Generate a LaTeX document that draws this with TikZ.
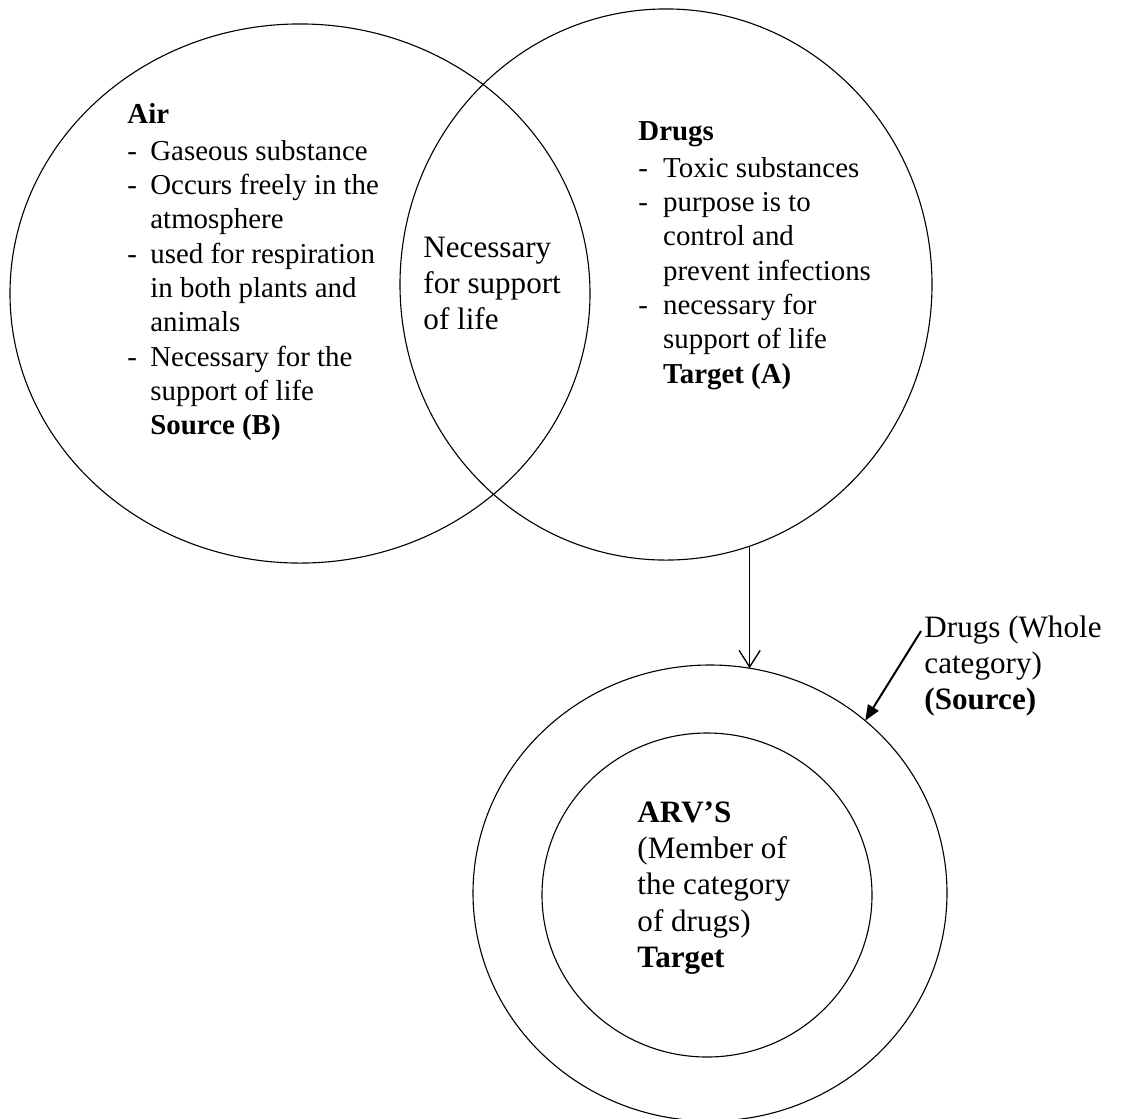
\documentclass[tikz,border=0pt]{standalone}
\usepackage{fontspec}
\setmainfont{Liberation Serif}
\usetikzlibrary{shapes.geometric,arrows.meta}

\begin{document}
\begin{tikzpicture}[x=0.45pt,y=-0.45pt,
  ring/.style={ellipse,draw,inner sep=0pt,outer sep=0pt,line width=0.5pt},
  note/.style={anchor=base west,inner sep=0pt,font=\fontsize{13}{15.45}\selectfont},
  big/.style={anchor=base west,inner sep=0pt,font=\fontsize{14}{16.4}\selectfont}]
\useasboundingbox (0,0) rectangle (1123,1118);

% the two overlapping sets
\node (air) at (300,293.5) [ring,minimum width=261pt,minimum height=242.6pt] {};
\node (drugs) at (666,284.5) [ring,minimum width=239.4pt,minimum height=248pt] {};

\node (airtext) at (127,123) [note] {\begin{tabular}[t]{@{}l@{\hspace{6pt}}l@{}}
\multicolumn{2}{@{}l@{}}{\textbf{Air}}\\[1.2pt]
-&Gaseous substance\\
-&Occurs freely in the\\
 &atmosphere\\
-&used for respiration\\
 &in both plants and\\
 &animals\\
-&Necessary for the\\
 &support of life\\
 &\textbf{Source (B)}
\end{tabular}};

\node (drugtext) at (638,140) [note] {\begin{tabular}[t]{@{}l@{\hspace{6.8pt}}l@{}}
\multicolumn{2}{@{}l@{}}{\textbf{Drugs}}\\[1.2pt]
-&Toxic substances\\
-&purpose is to\\
 &control and\\
 &prevent infections\\
-&necessary for\\
 &support of life\\
 &\textbf{Target (A)}
\end{tabular}};

\node (both) at (423,257) [big] {\begin{tabular}[t]{@{}l@{}}
Necessary\\for support\\of life
\end{tabular}};

% category and member
\node (outer) at (710,893) [ring,minimum width=213.3pt,minimum height=205.2pt] {};
\node (inner) at (707,895) [ring,minimum width=148.5pt,minimum height=145.8pt] {};

\node (arvs) at (637,822) [big] {\begin{tabular}[t]{@{}l@{}}
\textbf{ARV’S}\\(Member of\\the category\\of drugs)\\\textbf{Target}
\end{tabular}};

\node (whole) at (924,637) [big] {\begin{tabular}[t]{@{}l@{}}
Drugs (Whole\\category)\\\textbf{(Source)}
\end{tabular}};

\draw[-{Straight Barb[length=7.5pt,width=9.5pt]},line width=0.6pt] (outer.80.93 |- drugs.-73.06) -- (outer.80.93);
\coordinate (tail) at (921,631);
\draw[-{Triangle[length=7pt,width=5.5pt]},line width=0.9pt] (tail) -- (outer.48.7);
\end{tikzpicture}
\end{document}
